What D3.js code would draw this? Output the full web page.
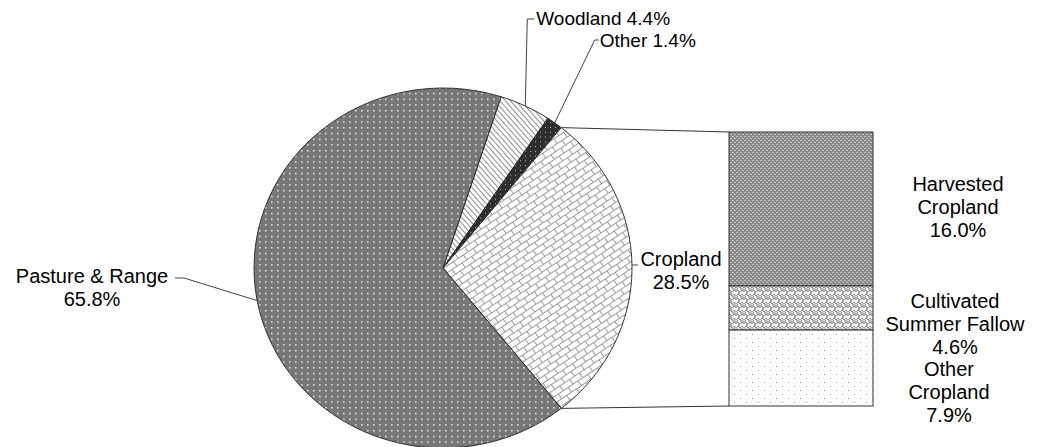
<!DOCTYPE html>
<html>
<head>
<meta charset="utf-8">
<script src="https://cdn.jsdelivr.net/npm/d3@7"></script>
<style>
  body { margin: 0; background: #fff; }
  text { font-family: "Liberation Sans", Arial, sans-serif; font-size: 20px; fill: #000; }
  text.top { font-size: 19px; }
</style>
</head>
<body>
<div id="chart"></div>
<script>
// slices in clockwise order, starting at the Pasture/Woodland boundary
const pieLabels = ["Woodland", "Other", "Cropland", "Pasture & Range"];
const pieValues = [4.4, 1.4, 28.5, 65.8];
const piePatterns = ["woodland", "otherland", "cropland", "pasture"];

const barLabels = [["Harvested", "Cropland"], ["Cultivated", "Summer Fallow"], ["Other", "Cropland"]];
const barValues = [16.0, 4.6, 7.9];
const barPatterns = ["harvested", "fallow", "othercrop"];

const width = 1042, height = 447;
const cx = 443, cy = 268, rx = 189, ry = 180;
const lineH = 23;

const svg = d3.select("#chart").append("svg")
  .attr("width", width)
  .attr("height", height);

// patterns
const defs = svg.append("defs");

const pasture = defs.append("pattern").attr("id", "pasture")
  .attr("patternUnits", "userSpaceOnUse").attr("width", 6).attr("height", 6);
pasture.append("rect").attr("width", 6).attr("height", 6).attr("fill", "#777");
pasture.append("rect").attr("x", 2).attr("y", 2).attr("width", 1.6).attr("height", 1.6).attr("fill", "#e4e4e4");

const wood = defs.append("pattern").attr("id", "woodland")
  .attr("patternUnits", "userSpaceOnUse").attr("width", 4).attr("height", 4)
  .attr("patternTransform", "rotate(-40)");
wood.append("rect").attr("width", 4).attr("height", 4).attr("fill", "#fff");
wood.append("line").attr("x1", 0.5).attr("y1", 0).attr("x2", 0.5).attr("y2", 4)
  .attr("stroke", "#8c8c8c").attr("stroke-width", 1);

const oth = defs.append("pattern").attr("id", "otherland")
  .attr("patternUnits", "userSpaceOnUse").attr("width", 5).attr("height", 5);
oth.append("rect").attr("width", 5).attr("height", 5).attr("fill", "#2e2e2e");
oth.append("rect").attr("x", 2).attr("y", 2).attr("width", 1).attr("height", 1).attr("fill", "#bbb");

const crop = defs.append("pattern").attr("id", "cropland")
  .attr("patternUnits", "userSpaceOnUse").attr("width", 12).attr("height", 12)
  .attr("patternTransform", "rotate(-35)");
crop.append("rect").attr("width", 12).attr("height", 12).attr("fill", "#fff");
crop.append("path")
  .attr("d", "M0,0.5H12M0,6.5H12M0.5,0.5V6.5M6.5,6.5V12.5")
  .attr("stroke", "#9a9a9a").attr("stroke-width", 1).attr("fill", "none");

const harv = defs.append("pattern").attr("id", "harvested")
  .attr("patternUnits", "userSpaceOnUse").attr("width", 4).attr("height", 4);
harv.append("rect").attr("width", 4).attr("height", 4).attr("fill", "#8a8a8a");
harv.append("rect").attr("x", 0).attr("y", 0).attr("width", 2).attr("height", 1).attr("fill", "#c4c4c4");
harv.append("rect").attr("x", 2).attr("y", 2).attr("width", 2).attr("height", 1).attr("fill", "#c4c4c4");

const fallow = defs.append("pattern").attr("id", "fallow")
  .attr("patternUnits", "userSpaceOnUse").attr("width", 8).attr("height", 8);
fallow.append("rect").attr("width", 8).attr("height", 8).attr("fill", "#fff");
fallow.append("path")
  .attr("d", "M0,4L2,2L4,4L6,2L8,4M0,8L2,6L4,8L6,6L8,8M0,2L2,0M6,0L8,2M2,4L4,6M4,0L6,2")
  .attr("stroke", "#9a9a9a").attr("stroke-width", 1.1).attr("fill", "none");

const oc = defs.append("pattern").attr("id", "othercrop")
  .attr("patternUnits", "userSpaceOnUse").attr("width", 12).attr("height", 8);
oc.append("rect").attr("width", 12).attr("height", 8).attr("fill", "#fff");
oc.append("rect").attr("x", 2).attr("y", 2).attr("width", 1).attr("height", 1).attr("fill", "#999");
oc.append("rect").attr("x", 8).attr("y", 6).attr("width", 1).attr("height", 1).attr("fill", "#999");

// pie
const total = d3.sum(pieValues);
const cropIdx = 2;
const before = d3.sum(pieValues.slice(0, cropIdx)) + pieValues[cropIdx] / 2;
const start = Math.PI / 2 - 2 * Math.PI * before / total;

const pie = d3.pie().sort(null).value(d => d)
  .startAngle(start).endAngle(start + 2 * Math.PI);
const arcs = pie(pieValues);
const arc = d3.arc().innerRadius(0).outerRadius(rx);

// point on the (slightly elliptical) rim
const rim = (a) => [cx + rx * Math.sin(a), cy - ry * Math.cos(a)];

const g = svg.append("g")
  .attr("transform", `translate(${cx},${cy}) scale(1,${ry / rx})`);

g.selectAll("path")
  .data(arcs)
  .join("path")
  .attr("d", arc)
  .attr("fill", (d, i) => `url(#${piePatterns[i]})`)
  .attr("stroke", "#222")
  .attr("stroke-width", 0.9)
  .attr("vector-effect", "non-scaling-stroke");

// bar of pie
const barX = 729, barW = 144;
const barTotal = d3.sum(barValues);
const y = d3.scaleLinear().domain([0, barTotal]).range([132, 406]);
const stack = barValues.map((v, i) => ({ v, i, y0: d3.sum(barValues.slice(0, i)) }));

// connector lines
const cropArc = arcs[cropIdx];
const p0 = rim(cropArc.startAngle);
const p1 = rim(cropArc.endAngle);
svg.append("line")
  .attr("x1", p0[0]).attr("y1", p0[1]).attr("x2", barX).attr("y2", y(0))
  .attr("stroke", "#333").attr("stroke-width", 1);
svg.append("line")
  .attr("x1", p1[0]).attr("y1", p1[1]).attr("x2", barX).attr("y2", y(barTotal))
  .attr("stroke", "#333").attr("stroke-width", 1);

svg.append("g").selectAll("rect")
  .data(stack)
  .join("rect")
  .attr("x", barX)
  .attr("y", d => y(d.y0))
  .attr("width", barW)
  .attr("height", d => y(d.y0 + d.v) - y(d.y0))
  .attr("fill", d => `url(#${barPatterns[d.i]})`)
  .attr("stroke", "#333")
  .attr("stroke-width", 1);

// multi-line centred label, first baseline at by
function block(x, by, lines) {
  const t = svg.append("text").attr("text-anchor", "middle");
  lines.forEach((s, j) => {
    t.append("tspan").attr("x", x).attr("y", by + j * lineH).text(s);
  });
}

// bar labels
const barLabelX = [958, 955, 949];
const barLabelY = [191, 308, 376];
stack.forEach(d => {
  block(barLabelX[d.i], barLabelY[d.i], barLabels[d.i].concat([d.v.toFixed(1) + "%"]));
});

// pie labels with leaders
const leader = svg.append("g").attr("fill", "none").attr("stroke", "#444").attr("stroke-width", 1);
const mid = d => (d.startAngle + d.endAngle) / 2;

// Woodland
{
  const p = rim(mid(arcs[0]));
  leader.append("path").attr("d", `M${p[0]},${p[1]}L${p[0] + 2},19H${p[0] + 9}`);
  svg.append("text").attr("class", "top").attr("x", p[0] + 11).attr("y", 25)
    .text(`${pieLabels[0]} ${pieValues[0].toFixed(1)}%`);
}
// Other
{
  const p = rim(mid(arcs[1]));
  leader.append("path").attr("d", `M${p[0]},${p[1]}L${p[0] + 40},40H${p[0] + 44}`);
  svg.append("text").attr("class", "top").attr("x", p[0] + 45).attr("y", 47)
    .text(`${pieLabels[1]} ${pieValues[1].toFixed(1)}%`);
}
// Cropland
{
  const p = rim(mid(arcs[2]));
  leader.append("path").attr("d", `M${p[0]},${p[1] - 3}H${p[0] + 6}`);
  block(p[0] + 49, 266, [pieLabels[2], pieValues[2].toFixed(1) + "%"]);
}
// Pasture & Range
{
  const p = rim(mid(arcs[3]));
  leader.append("path").attr("d", `M${p[0]},${p[1]}L184,278H175`);
  block(92, 283, [pieLabels[3], pieValues[3].toFixed(1) + "%"]);
}
</script>
</body>
</html>
